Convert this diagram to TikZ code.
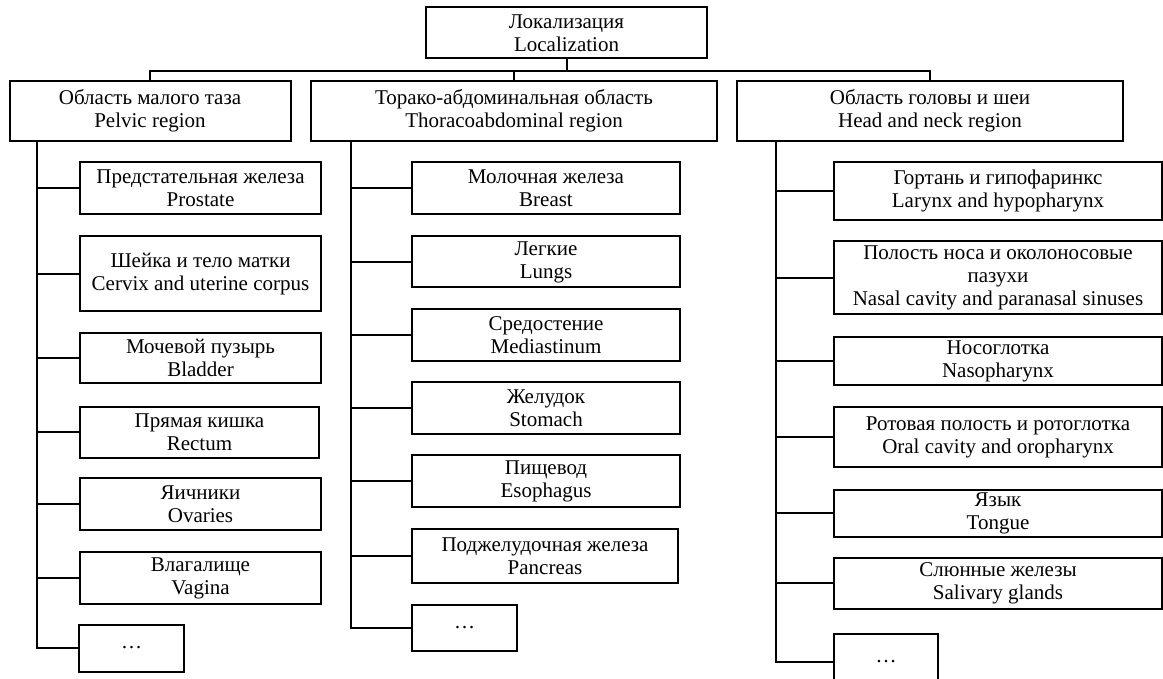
\documentclass[tikz,border=0pt]{standalone}
\usepackage{fontspec}
\setmainfont{Liberation Serif}

\begin{document}
\begin{tikzpicture}[x=1pt,y=-1pt,line width=2pt,
  blk/.style={draw, align=center, inner sep=1pt, font=\fontsize{21}{23}\selectfont},
  pel/.style={blk, minimum width=241pt},
  tor/.style={blk, minimum width=268pt},
  hn/.style={blk, minimum width=328pt}]
  \useasboundingbox (0,0) rectangle (1163,679);
  \clip (0,0) rectangle (1163,679);
  \coordinate (bus) at (0,71);

  % root and regions
  \node[blk, minimum width=281pt, minimum height=51pt] (loc) at (566.5,33) {Локализация\\Localization};
  \node[blk, minimum width=281pt, minimum height=60pt] (pelvic) at (150,111) {Область малого таза\\Pelvic region};
  \node[blk, minimum width=406pt, minimum height=60pt] (thor) at (514,111) {Торако-абдоминальная область\\Thoracoabdominal region};
  \node[blk, minimum width=386pt, minimum height=60pt] (head) at (930,111) {Область головы и шеи\\Head and neck region};

  \draw (loc.south) -- (loc.south |- bus);
  \draw (pelvic.north) |- (head.north |- bus) -- (head.north);
  \draw (thor.north) -- (thor.north |- bus);

  % pelvic region
  \node[pel, minimum height=52pt] (pr) at (200.5,188) {Предстательная железа\\Prostate};
  \node[pel, minimum height=75pt] (cx) at (200.5,274) {Шейка и тело матки\\Cervix and uterine corpus};
  \node[pel, minimum height=50pt] (bl) at (200.5,358) {Мочевой пузырь\\Bladder};
  \node[blk, minimum width=239pt, minimum height=51pt] (re) at (199.5,432) {Прямая кишка\\Rectum};
  \node[pel, minimum height=52pt] (ov) at (200.5,504) {Яичники\\Ovaries};
  \node[pel, minimum height=52pt] (va) at (200.5,578) {Влагалище\\Vagina};
  \node[blk, minimum width=105pt, minimum height=47pt] (pd) at (131.5,648) {…};

  % thoracoabdominal region
  \node[tor, minimum height=52pt] (mo) at (546,188) {Молочная железа\\Breast};
  \node[tor, minimum height=51pt] (le) at (546,262) {Легкие\\Lungs};
  \node[tor, minimum height=52pt] (sr) at (546,335) {Средостение\\Mediastinum};
  \node[tor, minimum height=52pt] (zh) at (546,408) {Желудок\\Stomach};
  \node[tor, minimum height=52pt] (pi) at (546,481) {Пищевод\\Esophagus};
  \node[blk, minimum width=266pt, minimum height=54pt] (pz) at (545,556) {Поджелудочная железа\\Pancreas};
  \node[blk, minimum width=105pt, minimum height=46pt] (td) at (464.5,628) {…};

  % head and neck region
  \node[hn, minimum height=58pt] (la) at (998,191) {Гортань и гипофаринкс\\Larynx and hypopharynx};
  \node[hn, minimum height=73pt] (na) at (998,278) {Полость носа и околоносовые\\пазухи\\Nasal cavity and paranasal sinuses};
  \node[hn, minimum height=48pt] (ns) at (998,361) {Носоглотка\\Nasopharynx};
  \node[hn, minimum height=60pt] (oc) at (998,437) {Ротовая полость и ротоглотка\\Oral cavity and oropharynx};
  \node[hn, minimum height=47pt] (ya) at (998,513) {Язык\\Tongue};
  \node[hn, minimum height=51pt] (sl) at (998,583) {Слюнные железы\\Salivary glands};
  \node[blk, minimum width=104pt, minimum height=56pt] (hd) at (886,662) {…};

  % spines
  \coordinate (ps) at ([xshift=28.5pt]pelvic.south west);
  \coordinate (ts) at ([xshift=41pt]thor.south west);
  \coordinate (hs) at ([xshift=40pt]head.south west);
  \foreach \n in {pr,cx,bl,re,ov,va,pd} \draw (ps) |- (\n.west);
  \foreach \n in {mo,le,sr,zh,pi,pz,td} \draw (ts) |- (\n.west);
  \foreach \n in {la,na,ns,oc,ya,sl,hd} \draw (hs) |- (\n.west);
\end{tikzpicture}
\end{document}
